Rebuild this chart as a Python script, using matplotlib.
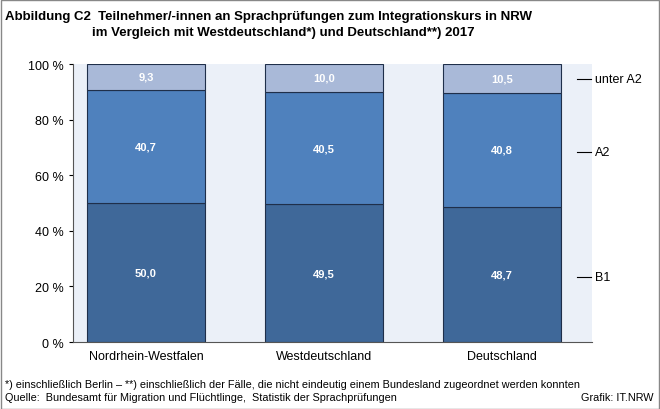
import matplotlib
matplotlib.use("Agg")
import matplotlib.pyplot as plt
from matplotlib.patches import Rectangle

categories = ["Nordrhein-Westfalen", "Westdeutschland", "Deutschland"]
b1 = [50.0, 49.5, 48.7]
a2 = [40.7, 40.5, 40.8]
unter_a2 = [9.3, 10.0, 10.5]
series_labels = ["B1", "A2", "unter A2"]
colors = ["#3F6899", "#4F81BD", "#A9B9D8"]

plt.rcParams["font.family"] = "Liberation Sans"

fig = plt.figure(figsize=(6.6, 4.1), dpi=100)
ax = fig.add_axes([0.1106, 0.1634, 0.7864, 0.678])
ax.set_facecolor("#EBF0F8")

x = range(len(categories))
bottom = [0, 0, 0]
for vals, col in zip([b1, a2, unter_a2], colors):
    ax.bar(x, vals, bottom=bottom, width=0.66, color=col, edgecolor="#1F2F4A", linewidth=0.8)
    for i, v in enumerate(vals):
        ax.text(i, bottom[i] + v / 2, f"{v:.1f}".replace(".", ","), ha="center", va="center",
                color="white", fontsize=8, fontweight="bold")
    bottom = [b + v for b, v in zip(bottom, vals)]

ax.set_xlim(-0.41, 2.506)
ax.set_ylim(0, 100)
ax.set_yticks(range(0, 101, 20))
ax.set_yticklabels([f"{t} %" for t in range(0, 101, 20)], fontsize=9)
ax.set_xticks(list(x))
ax.set_xticklabels(categories, fontsize=9)
ax.tick_params(axis="x", length=0, pad=6)
ax.tick_params(axis="y", length=3, direction="out")
for s in ["top", "right"]:
    ax.spines[s].set_visible(False)
ax.spines["left"].set_color("#555555")
ax.spines["bottom"].set_color("#555555")

# right-hand series labels with leader lines
mids = [23.5, 68.5, 94.5]
for m, lab in zip(mids, series_labels):
    ax.plot([2.42, 2.5], [m, m], color="black", lw=0.8, clip_on=False)
    ax.text(2.525, m, lab, va="center", ha="left", fontsize=9, clip_on=False)

fig.text(0.008, 0.972, "Abbildung C2  Teilnehmer/-innen an Sprachprüfungen zum Integrationskurs in NRW",
         fontsize=9.5, fontweight="bold", va="top")
fig.text(0.1395, 0.935, "im Vergleich mit Westdeutschland*) und Deutschland**) 2017",
         fontsize=9.5, fontweight="bold", va="top")
fig.text(0.008, 0.062, "*) einschließlich Berlin – **) einschließlich der Fälle, die nicht eindeutig einem Bundesland zugeordnet werden konnten",
         fontsize=7.8, va="center")
fig.text(0.008, 0.030, "Quelle:  Bundesamt für Migration und Flüchtlinge,  Statistik der Sprachprüfungen",
         fontsize=7.8, va="center")
fig.text(0.99, 0.030, "Grafik: IT.NRW", fontsize=7.8, va="center", ha="right")

fig.patches.append(Rectangle((0.001, 0.001), 0.997, 0.997, transform=fig.transFigure,
                             fill=False, edgecolor="#888888", linewidth=1))

fig.savefig("out.png", dpi=100)
